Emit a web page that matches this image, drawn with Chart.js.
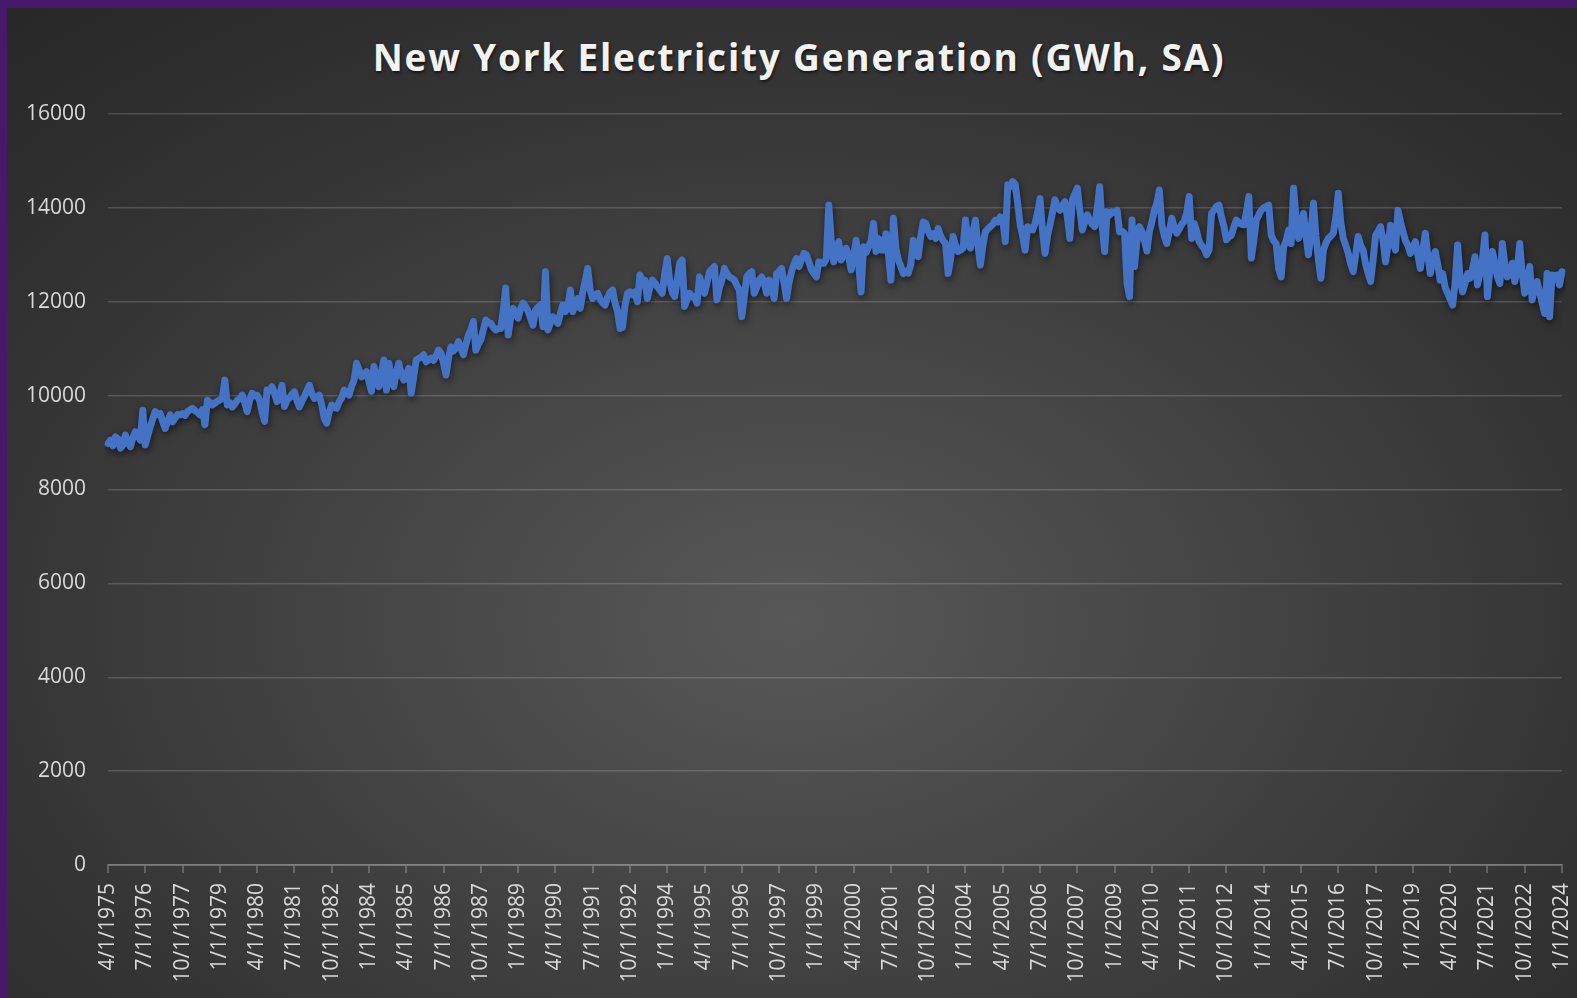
<!DOCTYPE html>
<html>
<head>
<meta charset="utf-8">
<title>New York Electricity Generation</title>
<script src="https://cdn.jsdelivr.net/npm/chart.js@4.4.1/dist/chart.umd.min.js"></script>
<style>
  html, body { margin: 0; padding: 0; }
  body { width: 1577px; height: 998px; background: #46196b; overflow: hidden; position: relative; }
  #panel {
    position: absolute; left: 7px; top: 8px; width: 1570px; height: 990px;
    background: radial-gradient(ellipse 75% 80% at 50% 62%, #585858 0%, #464646 35%, #343434 70%, #282828 100%);
  }
  #title {
    position: absolute; left: 14px; right: 0; top: 23px; text-align: center;
    font-family: "Open Sans", sans-serif; font-weight: 700; font-size: 37px; letter-spacing: 1.8px;
    color: #f2f2f2; text-shadow: 1px 2px 3px rgba(0,0,0,0.6);
  }
  canvas { position: absolute; left: 0; top: 0; }
</style>
</head>
<body>
<div id="panel">
  <div id="title">New York Electricity Generation (GWh, SA)</div>
  <canvas id="genChart" width="1570" height="990"></canvas>
</div>
<script>
// monthly values, Apr 1975 .. Jan 2024 (GWh, seasonally adjusted)
const generation = [
  8980, 9050, 8930, 9120, 9080, 8880, 8950, 9160, 9020, 8910, 9100, 9230,
  9150, 9050, 9690, 8950, 9150, 9340, 9500, 9660, 9600, 9620, 9450, 9300,
  9450, 9590, 9440, 9520, 9600, 9590, 9620, 9580, 9660, 9700, 9730, 9680,
  9640, 9590, 9700, 9380, 9900, 9850, 9800, 9840, 9880, 9910, 9950, 10330,
  9800, 9850, 9760, 9820, 9900, 9940, 10010, 9850, 9660, 9900, 10050, 10000,
  10010, 9900, 9650, 9450, 10120, 10100, 10190, 10050, 9870, 10000, 10220, 9770,
  9900, 9950, 10030, 10080, 9900, 9760, 9880, 9980, 10100, 10220, 10050, 9940,
  9960, 10010, 9800, 9520, 9410, 9650, 9800, 9750, 9730, 9870, 9950, 10120,
  10050, 10010, 10200, 10330, 10690, 10550, 10400, 10450, 10510, 10300, 10090, 10620,
  10400, 10190, 10500, 10760, 10120, 10690, 10400, 10190, 10500, 10690, 10450, 10330,
  10450, 10580, 10050, 10400, 10760, 10790, 10820, 10870, 10720, 10760, 10800, 10750,
  10850, 10970, 10900, 10690, 10440, 10800, 11040, 10950, 11010, 11150, 11000, 10870,
  11100, 11290, 11400, 11580, 10970, 11100, 11190, 11400, 11610, 11560, 11540, 11450,
  11400, 11430, 11430, 11800, 12290, 11290, 11650, 11860, 11750, 11650, 11850, 11970,
  11900, 11800, 11650, 11500, 11820, 11880, 11930, 11470, 12640, 11400, 11550, 11680,
  11600, 11540, 11750, 11930, 11790, 11900, 12250, 11790, 11950, 12070, 11860, 12200,
  12450, 12710, 12250, 12070, 12150, 12180, 12050, 11980, 11930, 12100, 12200, 12250,
  11970, 11800, 11430, 11450, 11900, 12180, 12210, 12150, 12210, 12000, 12570, 12460,
  12460, 12070, 12300, 12460, 12400, 12320, 12250, 12180, 12600, 12920, 12460, 12200,
  12110, 12450, 12820, 12890, 11900, 12050, 12180, 12100, 12110, 11970, 12530, 12350,
  12180, 12400, 12640, 12700, 12750, 12040, 12300, 12460, 12710, 12600, 12530, 12500,
  12460, 12350, 12250, 11680, 12100, 12530, 12600, 12640, 12180, 12300, 12460, 12530,
  12400, 12180, 12460, 12300, 12070, 12600, 12650, 12710, 12400, 12070, 12400, 12640,
  12800, 12920, 12750, 12900, 13030, 13000, 12850, 12680, 12600, 12530, 12850, 12820,
  12820, 12920, 14060, 13300, 12850, 13100, 13280, 12890, 13000, 13140, 12950, 12680,
  13000, 13310, 12800, 12210, 13170, 13050, 13170, 13300, 13670, 13070, 13350, 13100,
  13100, 13450, 13000, 12460, 13780, 13140, 12890, 12750, 12600, 12650, 12610, 12800,
  13310, 13100, 12960, 13400, 13700, 13670, 13500, 13390, 13450, 13350, 13560, 13400,
  13300, 13240, 12600, 12900, 13390, 13200, 13070, 13100, 13140, 13740, 13300, 13140,
  13500, 13740, 13200, 12780, 13200, 13490, 13550, 13600, 13650, 13740, 13700, 13810,
  13750, 13280, 14490, 14450, 14560, 14500, 14100, 13640, 13400, 13100, 13600, 13550,
  13530, 13670, 13900, 14200, 13500, 13030, 13400, 13640, 13900, 14170, 14000, 13950,
  14050, 14130, 13800, 13350, 14170, 14300, 14420, 13950, 13530, 13700, 13850, 13750,
  13650, 13600, 14000, 14450, 13600, 13070, 13920, 13850, 13920, 13900, 13950, 13490,
  13500, 13460, 12390, 12110, 13740, 12750, 13300, 13600, 13490, 13300, 13080, 13500,
  13700, 13950, 14100, 14380, 13640, 13400, 13240, 13500, 13780, 13600, 13460, 13550,
  13650, 13710, 13900, 14240, 13350, 13670, 13500, 13280, 13200, 13140, 13000, 13100,
  13880, 13950, 14030, 14060, 13800, 13600, 13320, 13380, 13420, 13600, 13740, 13680,
  13650, 13640, 13900, 14240, 12930, 13300, 13740, 13850, 13950, 14000, 14030, 14060,
  13420, 13300, 13240, 12700, 12530, 13170, 13300, 13530, 13240, 14420, 13800, 13350,
  13600, 13880, 13400, 13000, 13500, 14100, 13400, 12890, 12500, 13100, 13250, 13350,
  13400, 13460, 13800, 14310, 13700, 13350, 13200, 13030, 12800, 12640, 13000, 13390,
  13200, 13100, 12800, 12600, 12430, 12900, 13420, 13500, 13600, 13300, 12850, 13200,
  13630, 13300, 13100, 13950, 13700, 13500, 13300, 13200, 13030, 13150, 13280, 13000,
  12710, 13100, 13460, 13000, 12600, 12900, 13070, 12800, 12460, 12600, 12300, 12180,
  12050, 11930, 12400, 13210, 12500, 12210, 12400, 12600, 12500, 12700, 12960, 12360,
  12600, 12900, 13420, 12110, 12700, 13070, 12800, 12530, 12390, 13240, 12800, 12530,
  12600, 12820, 12430, 12700, 13240, 12600, 12180, 12400, 12750, 12040, 12300, 12430,
  12200, 11980, 11750, 12600, 11680, 12570, 12550, 12570, 12360, 12640
];

// axis labels shown every 15 months
const tickLabels = [
  '4/1/1975', '7/1/1976', '10/1/1977', '1/1/1979', '4/1/1980', '7/1/1981', '10/1/1982', '1/1/1984',
  '4/1/1985', '7/1/1986', '10/1/1987', '1/1/1989', '4/1/1990', '7/1/1991', '10/1/1992', '1/1/1994',
  '4/1/1995', '7/1/1996', '10/1/1997', '1/1/1999', '4/1/2000', '7/1/2001', '10/1/2002', '1/1/2004',
  '4/1/2005', '7/1/2006', '10/1/2007', '1/1/2009', '4/1/2010', '7/1/2011', '10/1/2012', '1/1/2014',
  '4/1/2015', '7/1/2016', '10/1/2017', '1/1/2019', '4/1/2020', '7/1/2021', '10/1/2022', '1/1/2024'
];
const tickEvery = 15;

const yTicks = [0, 2000, 4000, 6000, 8000, 10000, 12000, 14000, 16000];

// one category per month
const months = [];
for (let i = 0; i < generation.length; i++) {
    const mo = (3 + i) % 12 + 1;
    const yr = 1975 + Math.floor((3 + i) / 12);
    months.push(mo + '/1/' + yr);
}

const lineShadow = {
    id: 'lineShadow',
    beforeDatasetsDraw(chart) {
        const ctx = chart.ctx;
        ctx.save();
        ctx.shadowColor = 'rgba(0,0,0,0.55)';
        ctx.shadowBlur = 7;
        ctx.shadowOffsetX = 1;
        ctx.shadowOffsetY = 3;
    },
    afterDatasetsDraw(chart) {
        chart.ctx.restore();
    }
};

const labelColor = '#d9d9d9';
const font = { family: '"Open Sans", sans-serif', size: 21 };

new Chart(document.getElementById('genChart'), {
    type: 'line',
    data: {
        labels: months,
        datasets: [{
            label: 'Generation',
            data: generation,
            borderColor: '#4472c4',
            borderWidth: 7,
            borderJoinStyle: 'round',
            borderCapStyle: 'round',
            pointRadius: 0,
            tension: 0,
            fill: false
        }]
    },
    options: {
        responsive: false,
        animation: false,
        layout: { padding: { top: 106, right: 15, left: 0, bottom: 0 } },
        plugins: {
            legend: { display: false },
            tooltip: { enabled: false },
            title: { display: false }
        },
        scales: {
            x: {
                type: 'category',
                offset: false,
                afterFit: s => { s.height = 133; s.paddingLeft = 0; s.paddingRight = 0; },
                border: { display: true, color: 'rgba(255,255,255,0.22)', width: 2 },
                grid: {
                    drawOnChartArea: false,
                    drawTicks: true,
                    tickLength: 8,
                    lineWidth: 2,
                    color: c => (c.index % tickEvery === 0 ? 'rgba(255,255,255,0.22)' : 'rgba(0,0,0,0)')
                },
                ticks: {
                    autoSkip: false,
                    minRotation: 90,
                    maxRotation: 90,
                    padding: 10,
                    color: labelColor,
                    font: font,
                    callback: (v, i) => (i % tickEvery === 0 ? tickLabels[i / tickEvery] : '')
                }
            },
            y: {
                min: yTicks[0],
                max: yTicks[yTicks.length - 1],
                afterFit: s => { s.width = 101; },
                afterBuildTicks: s => { s.ticks = yTicks.map(v => ({ value: v })); },
                border: { display: false },
                grid: { color: 'rgba(255,255,255,0.16)', lineWidth: 1.5, drawTicks: false },
                ticks: { color: labelColor, font: font, padding: 22, callback: v => String(v) }
            }
        }
    },
    plugins: [lineShadow]
});
</script>
</body>
</html>
